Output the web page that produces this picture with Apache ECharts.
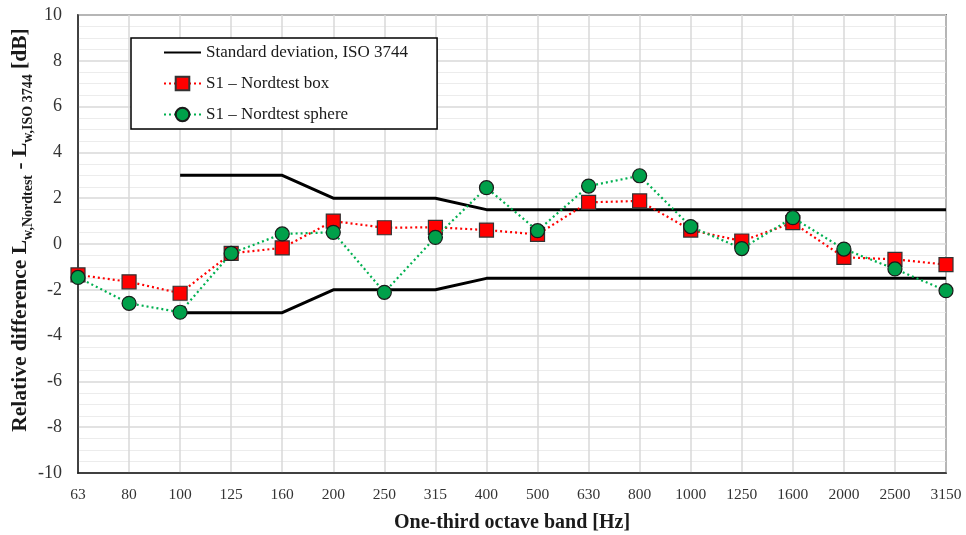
<!DOCTYPE html>
<html>
<head>
<meta charset="utf-8">
<script src="https://cdn.jsdelivr.net/npm/echarts@6/dist/echarts.min.js"></script>
<style>
  html, body { margin: 0; padding: 0; background: #fff; }
  #chart { width: 966px; height: 535px; }
</style>
</head>
<body>
<div id="chart"></div>
<script>
// One-third octave bands [Hz]
const bands = ['63', '80', '100', '125', '160', '200', '250', '315', '400', '500',
  '630', '800', '1000', '1250', '1600', '2000', '2500', '3150'];

// ISO 3744 standard deviation envelope (upper / lower), undefined below 100 Hz
const stdUpper = [null, null, 3, 3, 3, 2, 2, 2, 1.5, 1.5, 1.5, 1.5, 1.5, 1.5, 1.5, 1.5, 1.5, 1.5];
const stdLower = [null, null, -3, -3, -3, -2, -2, -2, -1.5, -1.5, -1.5, -1.5, -1.5, -1.5, -1.5, -1.5, -1.5, -1.5];

// Relative difference L_w,Nordtest - L_w,ISO 3744 [dB]
const nordtestBox = [-1.35, -1.65, -2.15, -0.41, -0.17, 1.0, 0.71, 0.73, 0.61, 0.42,
  1.82, 1.88, 0.61, 0.13, 0.93, -0.58, -0.67, -0.9];
const nordtestSphere = [-1.46, -2.59, -2.98, -0.41, 0.44, 0.51, -2.11, 0.29, 2.46, 0.58,
  2.53, 2.98, 0.76, -0.2, 1.15, -0.22, -1.09, -2.04];

const yTicks = { min: -10, max: 10, interval: 2 };

const FONT = '"Liberation Serif", "DejaVu Serif", serif';
const STD_NAME = 'Standard deviation, ISO 3744';
const BOX_NAME = 'S1 \u2013 Nordtest box';
const SPHERE_NAME = 'S1 \u2013 Nordtest sphere';

const chart = echarts.init(document.getElementById('chart'));

const stdStyle = {
  type: 'line',
  name: STD_NAME,
  symbol: 'none',
  connectNulls: false,
  lineStyle: { color: '#000', width: 3 },
  itemStyle: { color: '#000' },
  z: 2,
  silent: true
};

chart.setOption({
  animation: false,
  backgroundColor: '#fff',
  textStyle: { fontFamily: FONT },
  grid: {
    left: 78, right: 20, top: 15, bottom: 62,
    outerBoundsMode: 'none',
    containLabel: false,
    show: true, borderColor: '#1a1a1a', borderWidth: 1.5, backgroundColor: '#fff'
  },
  legend: {
    data: [
      { name: STD_NAME, itemStyle: { opacity: 0 } },
      BOX_NAME,
      SPHERE_NAME
    ],
    orient: 'vertical',
    left: 131, top: 38,
    padding: [6, 29, 6, 32],
    itemWidth: 37, itemHeight: 17, itemGap: 14,
    backgroundColor: '#fff',
    borderColor: '#000', borderWidth: 1.5,
    textStyle: { fontFamily: FONT, fontSize: 17, color: '#1a1a1a' }
  },
  xAxis: {
    type: 'category',
    data: bands,
    boundaryGap: false,
    axisLine: { show: true, onZero: false, lineStyle: { color: '#1a1a1a', width: 1.5 } },
    axisTick: { show: false },
    axisLabel: { fontFamily: FONT, fontSize: 15.5, color: '#333', margin: 14 },
    splitLine: { show: true, lineStyle: { color: '#d9d9d9', width: 1.5 } },
    name: 'One-third octave band [Hz]',
    nameLocation: 'middle',
    nameGap: 40,
    nameTextStyle: { fontFamily: FONT, fontSize: 20, fontWeight: 'bold', color: '#1a1a1a' }
  },
  yAxis: {
    type: 'value',
    min: yTicks.min, max: yTicks.max, interval: yTicks.interval,
    axisLine: { show: true, lineStyle: { color: '#1a1a1a', width: 1.5 } },
    axisTick: { show: false },
    axisLabel: { fontFamily: FONT, fontSize: 18, color: '#333', margin: 16 },
    splitLine: { show: true, lineStyle: { color: '#d9d9d9', width: 1.5 } },
    minorTick: { show: false, splitNumber: 4 },
    minorSplitLine: { show: true, lineStyle: { color: '#ececec', width: 1.2 } },
    name: '{b|Relative difference L}{s|w,Nordtest}{b| - L}{s|w,ISO 3744}{b| [dB]}',
    nameLocation: 'middle',
    nameRotate: 90,
    nameGap: 43,
    nameMoveOverlap: false,
    nameTextStyle: {
      padding: [0, 0, 0, 28],
      rich: {
        b: { fontFamily: FONT, fontSize: 21.5, fontWeight: 'bold', color: '#1a1a1a', lineHeight: 30, verticalAlign: 'middle' },
        s: { fontFamily: FONT, fontSize: 14, fontWeight: 'bold', color: '#1a1a1a', lineHeight: 14, verticalAlign: 'bottom' }
      }
    }
  },
  series: [
    Object.assign({}, stdStyle, { data: stdUpper }),
    Object.assign({}, stdStyle, { data: stdLower }),
    {
      type: 'line',
      name: BOX_NAME,
      data: nordtestBox,
      symbol: 'rect',
      symbolSize: 14,
      lineStyle: { color: '#ff0000', width: 2.2, type: [2, 3] },
      itemStyle: { color: '#ff0000', borderColor: '#333', borderWidth: 1.2 },
      z: 3
    },
    {
      type: 'line',
      name: SPHERE_NAME,
      data: nordtestSphere,
      symbol: 'circle',
      symbolSize: 14,
      lineStyle: { color: '#00b050', width: 2.2, type: [2, 3] },
      itemStyle: { color: '#00a04a', borderColor: '#1a1a1a', borderWidth: 1.2 },
      z: 4
    }
  ]
});
</script>
</body>
</html>
